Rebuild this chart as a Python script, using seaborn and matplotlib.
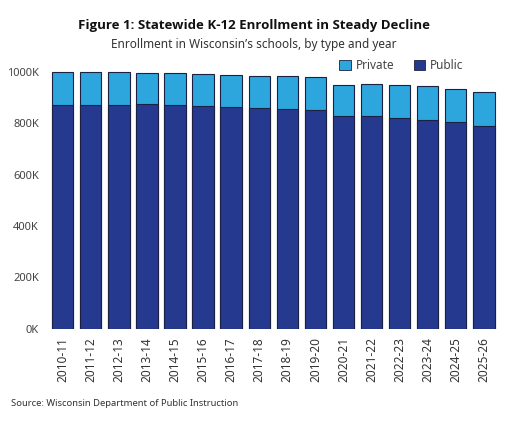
import seaborn as sns
import matplotlib.pyplot as plt
import matplotlib.ticker as ticker
from matplotlib.patches import Patch
import pandas as pd

years = ['2010-11', '2011-12', '2012-13', '2013-14', '2014-15', '2015-16',
         '2016-17', '2017-18', '2018-19', '2019-20', '2020-21', '2021-22',
         '2022-23', '2023-24', '2024-25', '2025-26']
# enrollment in thousands
public = [871, 871, 871, 875, 871, 867, 864, 861, 856, 852, 828, 828, 822, 812, 805, 789]
private = [128, 128, 128, 120, 124, 124, 124, 125, 130, 127, 121, 124, 127, 133, 128, 132]

df = pd.DataFrame({'year': years, 'public': public, 'private': private})
df['total'] = df['public'] + df['private']

pub_color = '#253a8f'
priv_color = '#2da6dd'
edge = '#1b2142'

sns.set_style('white')
plt.rcParams['font.family'] = ['Noto Sans', 'DejaVu Sans']

fig = plt.figure(figsize=(5.07, 4.23), dpi=100)
ax = fig.add_axes([0.096, 0.223, 0.886, 0.619])

sns.barplot(data=df, x='year', y='total', color=priv_color, width=0.76,
            edgecolor=edge, linewidth=0.8, saturation=1, ax=ax)
sns.barplot(data=df, x='year', y='public', color=pub_color, width=0.76,
            edgecolor=edge, linewidth=0.8, saturation=1, ax=ax)

ax.set_ylim(0, 1020)
ax.set_xlim(-0.5, len(years) - 0.5)
ax.yaxis.set_major_locator(ticker.MultipleLocator(200))
ax.yaxis.set_major_formatter(ticker.FuncFormatter(lambda v, p: f'{int(v)}K'))
ax.set_xlabel('')
ax.set_ylabel('')
ax.tick_params(axis='x', rotation=90, labelsize=8.5, colors='#333333', length=0, pad=6)
ax.tick_params(axis='y', labelsize=8, colors='#444444', length=0, pad=7)
sns.despine(ax=ax, left=True, bottom=True)

handles = [Patch(facecolor=priv_color, edgecolor=edge, linewidth=0.6, label='Private'),
           Patch(facecolor=pub_color, edgecolor=edge, linewidth=0.6, label='Public')]
fig.legend(handles=handles, loc='center right', bbox_to_anchor=(0.915 + 0.02, 0.845), ncol=2,
           frameon=False, fontsize=8.5, handlelength=1.0, handleheight=1.0,
           columnspacing=1.6, handletextpad=0.4, labelcolor='#444444')

fig.text(0.5, 0.94, 'Figure 1: Statewide K-12 Enrollment in Steady Decline',
         ha='center', va='center', fontsize=9.5, fontweight='bold', color='#111111',
         family=['Open Sans', 'DejaVu Sans'])
fig.text(0.5, 0.895, 'Enrollment in Wisconsin\u2019s schools, by type and year',
         ha='center', va='center', fontsize=8.5, color='#333333')
fig.text(0.022, 0.045, 'Source: Wisconsin Department of Public Instruction',
         ha='left', va='center', fontsize=6.8, color='#333333')

fig.savefig('out.png', dpi=100)
